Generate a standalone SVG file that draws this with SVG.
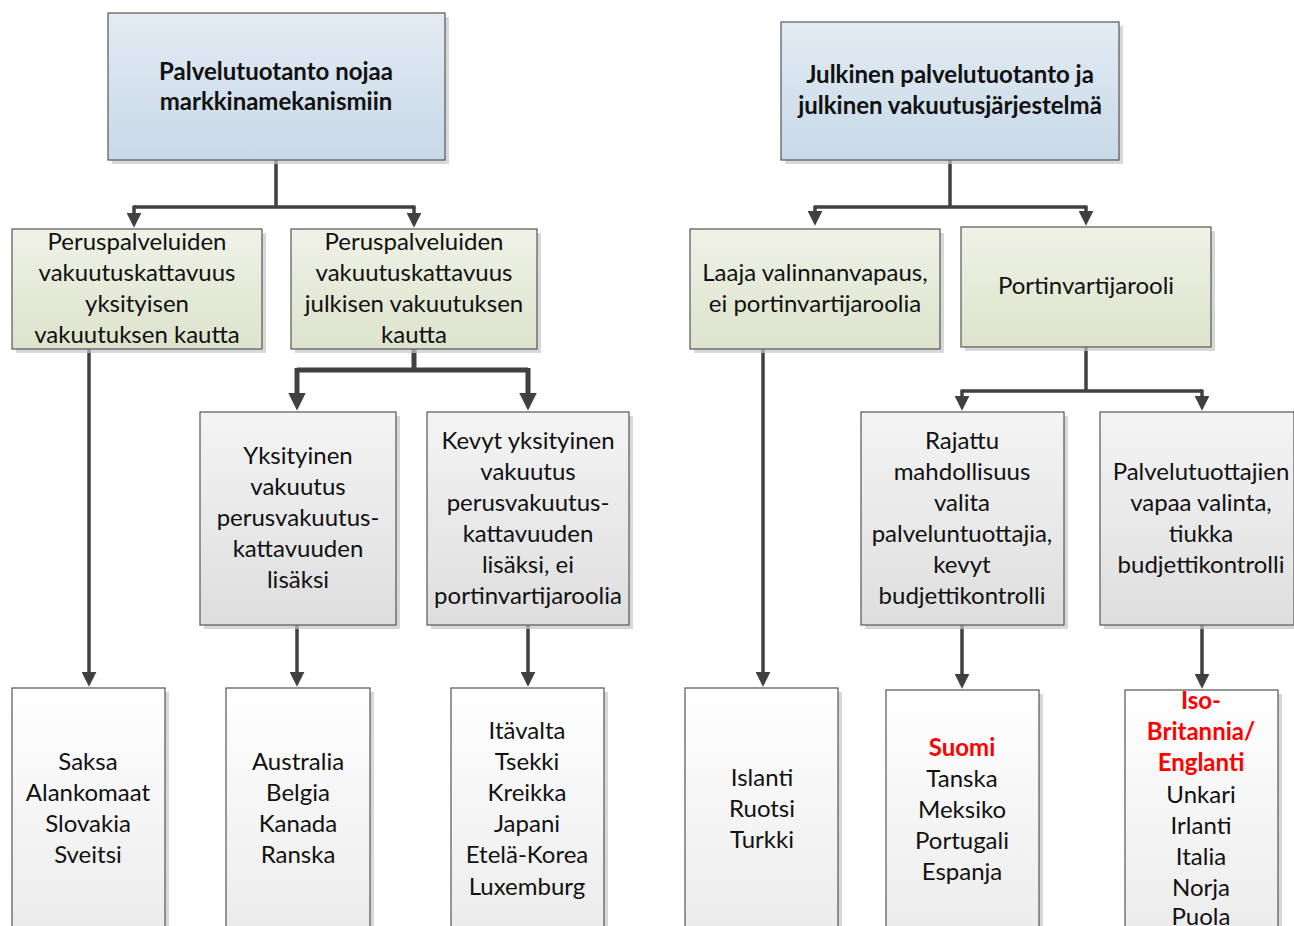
<svg xmlns="http://www.w3.org/2000/svg" width="1294" height="926" viewBox="0 0 1294 926">
<style>
text{font-family:Lato,"Open Sans","Liberation Sans",sans-serif;font-size:24px;fill:#111;text-anchor:middle}
.b{font-weight:bold}
.red{fill:#ff0000;font-weight:bold}
.box{stroke:#555;stroke-width:1.2}
.sh{fill:#c8c8c8;opacity:.7}
.blue{fill:url(#gBlue)}
.green{fill:url(#gGreen)}
.gray{fill:url(#gGray)}
.white{fill:url(#gWhite)}
.c{fill:none;stroke:#404040;stroke-width:3.5;marker-end:url(#arr)}
.ct{fill:none;stroke:#404040;stroke-width:5;marker-end:url(#arrL)}
.ln{fill:none;stroke:#404040;stroke-width:3.5}
.lnt{fill:none;stroke:#404040;stroke-width:5}
</style>
<defs>
<linearGradient id="gBlue" x1="0" y1="0" x2="0" y2="1"><stop offset="0" stop-color="#e3ebf3"/><stop offset="1" stop-color="#c7d9e8"/></linearGradient>
<linearGradient id="gGreen" x1="0" y1="0" x2="0" y2="1"><stop offset="0" stop-color="#eff2e6"/><stop offset="1" stop-color="#dde3cc"/></linearGradient>
<linearGradient id="gGray" x1="0" y1="0" x2="0" y2="1"><stop offset="0" stop-color="#f4f4f4"/><stop offset="1" stop-color="#dedede"/></linearGradient>
<linearGradient id="gWhite" x1="0" y1="0" x2="0" y2="1"><stop offset="0" stop-color="#ffffff"/><stop offset="1" stop-color="#ececec"/></linearGradient>
<marker id="arr" viewBox="0 0 14 14" refX="4" refY="7" markerWidth="15" markerHeight="15" markerUnits="userSpaceOnUse" orient="auto"><path d="M0,0 L14,7 L0,14 z" fill="#404040"/></marker>
<marker id="arrL" viewBox="0 0 16 16" refX="4" refY="8" markerWidth="18" markerHeight="18" markerUnits="userSpaceOnUse" orient="auto"><path d="M0,0 L16,8 L0,16 z" fill="#404040"/></marker>
</defs>

<g id="connectors">
<path class="ln" d="M276,160 V207 M134,207 H414"/>
<path class="c" d="M134,205.5 V217"/>
<path class="c" d="M414,205.5 V217"/>
<path class="c" d="M89,349 V676"/>
<path class="lnt" d="M414,349 V370 M297,370 H528"/>
<path class="ct" d="M297,368 V397"/>
<path class="ct" d="M528,368 V397"/>
<path class="c" d="M297,625 V676"/>
<path class="c" d="M528,625 V676"/>
<path class="ln" d="M950,160 V207 M815,207 H1086"/>
<path class="c" d="M815,205.5 V215"/>
<path class="c" d="M1086,205.5 V215"/>
<path class="c" d="M763,349 V676"/>
<path class="ln" d="M1086,347 V391 M962,391 H1202"/>
<path class="c" d="M962,389.5 V400"/>
<path class="c" d="M1202,389.5 V400"/>
<path class="c" d="M962,625 V678"/>
<path class="c" d="M1202,625 V678"/>
</g>

<g id="top-left">
<rect class="sh" x="112" y="17" width="337" height="147"/>
<rect class="box blue" x="108" y="13" width="337" height="147"/>
<text class="b" x="276" y="80">Palvelutuotanto nojaa</text>
<text class="b" x="276" y="110">markkinamekanismiin</text>
</g>

<g id="top-right">
<rect class="sh" x="785" y="26" width="338" height="138"/>
<rect class="box blue" x="781" y="22" width="338" height="138"/>
<text class="b" x="950" y="83">Julkinen palvelutuotanto ja</text>
<text class="b" x="950" y="114">julkinen vakuutusjärjestelmä</text>
</g>

<g id="private-coverage">
<rect class="sh" x="16" y="233" width="250" height="120"/>
<rect class="box green" x="12" y="229" width="250" height="120"/>
<text x="137" y="250">Peruspalveluiden</text>
<text x="137" y="281">vakuutuskattavuus</text>
<text x="137" y="312">yksityisen</text>
<text x="137" y="343">vakuutuksen kautta</text>
</g>

<g id="public-coverage">
<rect class="sh" x="295" y="233" width="246" height="120"/>
<rect class="box green" x="291" y="229" width="246" height="120"/>
<text x="414" y="250">Peruspalveluiden</text>
<text x="414" y="281">vakuutuskattavuus</text>
<text x="414" y="312">julkisen vakuutuksen</text>
<text x="414" y="343">kautta</text>
</g>

<g id="wide-choice">
<rect class="sh" x="694" y="233" width="250" height="120"/>
<rect class="box green" x="690" y="229" width="250" height="120"/>
<text x="815" y="281">Laaja valinnanvapaus,</text>
<text x="815" y="312">ei portinvartijaroolia</text>
</g>

<g id="gatekeeper">
<rect class="sh" x="965" y="231" width="250" height="120"/>
<rect class="box green" x="961" y="227" width="250" height="120"/>
<text x="1086" y="294">Portinvartijarooli</text>
</g>

<g id="private-supplement">
<rect class="sh" x="204" y="416" width="196" height="213"/>
<rect class="box gray" x="200" y="412" width="196" height="213"/>
<text x="298" y="464">Yksityinen</text>
<text x="298" y="495">vakuutus</text>
<text x="298" y="526">perusvakuutus-</text>
<text x="298" y="557">kattavuuden</text>
<text x="298" y="588">lisäksi</text>
</g>

<g id="light-private">
<rect class="sh" x="431" y="416" width="202" height="213"/>
<rect class="box gray" x="427" y="412" width="202" height="213"/>
<text x="528" y="449">Kevyt yksityinen</text>
<text x="528" y="480">vakuutus</text>
<text x="528" y="511">perusvakuutus-</text>
<text x="528" y="542">kattavuuden</text>
<text x="528" y="573">lisäksi, ei</text>
<text x="528" y="604">portinvartijaroolia</text>
</g>

<g id="limited-choice">
<rect class="sh" x="865" y="416" width="203" height="213"/>
<rect class="box gray" x="861" y="412" width="203" height="213"/>
<text x="962" y="449">Rajattu</text>
<text x="962" y="480">mahdollisuus</text>
<text x="962" y="511">valita</text>
<text x="962" y="542">palveluntuottajia,</text>
<text x="962" y="573">kevyt</text>
<text x="962" y="604">budjettikontrolli</text>
</g>

<g id="free-choice">
<rect class="sh" x="1104" y="416" width="194" height="213"/>
<rect class="box gray" x="1100" y="412" width="194" height="213"/>
<text x="1201" y="480">Palvelutuottajien</text>
<text x="1201" y="511">vapaa valinta,</text>
<text x="1201" y="542">tiukka</text>
<text x="1201" y="573">budjettikontrolli</text>
</g>

<g id="countries-1">
<rect class="sh" x="16" y="692" width="153" height="240"/>
<rect class="box white" x="12" y="688" width="153" height="240"/>
<text x="88" y="770">Saksa</text>
<text x="88" y="801">Alankomaat</text>
<text x="88" y="832">Slovakia</text>
<text x="88" y="863">Sveitsi</text>
</g>

<g id="countries-2">
<rect class="sh" x="230" y="692" width="144" height="240"/>
<rect class="box white" x="226" y="688" width="144" height="240"/>
<text x="298" y="770">Australia</text>
<text x="298" y="801">Belgia</text>
<text x="298" y="832">Kanada</text>
<text x="298" y="863">Ranska</text>
</g>

<g id="countries-3">
<rect class="sh" x="455" y="692" width="153" height="240"/>
<rect class="box white" x="451" y="688" width="153" height="240"/>
<text x="527" y="739">Itävalta</text>
<text x="527" y="770">Tsekki</text>
<text x="527" y="801">Kreikka</text>
<text x="527" y="832">Japani</text>
<text x="527" y="863">Etelä-Korea</text>
<text x="527" y="895">Luxemburg</text>
</g>

<g id="countries-4">
<rect class="sh" x="689" y="692" width="153" height="240"/>
<rect class="box white" x="685" y="688" width="153" height="240"/>
<text x="762" y="786">Islanti</text>
<text x="762" y="817">Ruotsi</text>
<text x="762" y="848">Turkki</text>
</g>

<g id="countries-5">
<rect class="sh" x="890" y="694" width="153" height="240"/>
<rect class="box white" x="886" y="690" width="153" height="240"/>
<text class="red" x="962" y="756">Suomi</text>
<text x="962" y="787">Tanska</text>
<text x="962" y="818">Meksiko</text>
<text x="962" y="849">Portugali</text>
<text x="962" y="880">Espanja</text>
</g>

<g id="countries-6">
<rect class="sh" x="1129" y="694" width="153" height="240"/>
<rect class="box white" x="1125" y="690" width="153" height="240"/>
<text class="red" x="1201" y="709">Iso-</text>
<text class="red" x="1201" y="740">Britannia/</text>
<text class="red" x="1201" y="771">Englanti</text>
<text x="1201" y="803">Unkari</text>
<text x="1201" y="834">Irlanti</text>
<text x="1201" y="865">Italia</text>
<text x="1201" y="896">Norja</text>
<text x="1201" y="925">Puola</text>
</g>
</svg>
